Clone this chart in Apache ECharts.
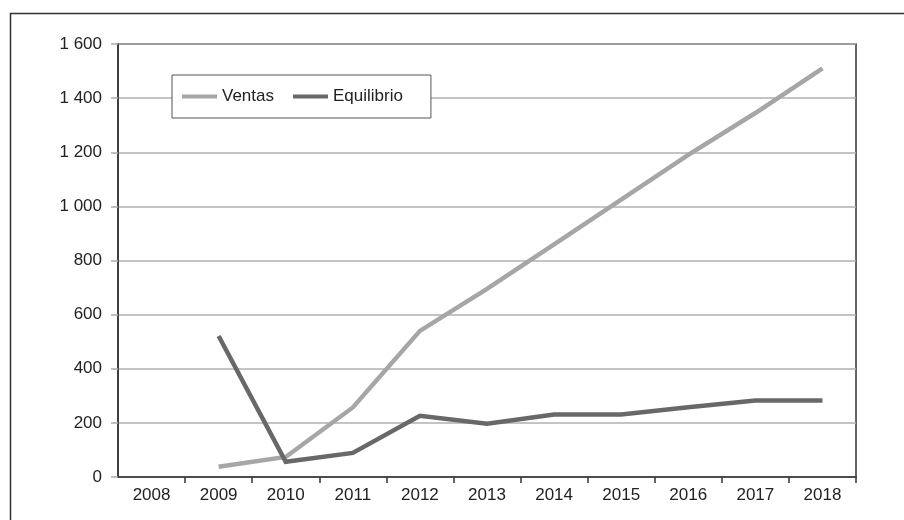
<!DOCTYPE html>
<html>
<head>
<meta charset="utf-8">
<script src="https://cdn.jsdelivr.net/npm/echarts@6/dist/echarts.min.js"></script>
<style>html,body{margin:0;padding:0;background:#fff;}#c{width:904px;height:520px;}</style>
</head>
<body>
<div id="c"></div>
<script>
var years = ['2008','2009','2010','2011','2012','2013','2014','2015','2016','2017','2018'];
var ventas = [null, 38, 74, 257, 540, 695, 860, 1025, 1190, 1345, 1510];
var equilibrio = [null, 521, 56, 89, 226, 197, 231, 231, 258, 283, 283];
var yTicks = [0, 200, 400, 600, 800, 1000, 1200, 1400, 1600];

var FONT = '"Liberation Sans", Arial, sans-serif';
var chart = echarts.init(document.getElementById('c'), null, {renderer: 'canvas'});
chart.setOption({
  animation: false,
  backgroundColor: '#ffffff',
  textStyle: {fontFamily: FONT},
  graphic: [{
    type: 'rect', left: 8, top: 11, silent: true,
    shape: {x: 0, y: 0, width: 1200, height: 1000},
    style: {fill: null, stroke: '#333', lineWidth: 1.5}
  }],
  grid: {left: 118, right: 48, top: 44, bottom: 43, show: true, borderColor: '#333', borderWidth: 1.5, backgroundColor: 'transparent'},
  legend: {
    left: 172, top: 75,
    padding: [13, 28, 13, 10],
    backgroundColor: '#fff',
    borderColor: '#555', borderWidth: 1,
    itemWidth: 35, itemHeight: 4, itemGap: 19,
    textStyle: {fontFamily: FONT, fontSize: 17, color: '#222'},
    data: [{name: 'Ventas', icon: 'rect'}, {name: 'Equilibrio', icon: 'rect'}]
  },
  xAxis: {
    type: 'category', data: years, boundaryGap: true,
    axisLine: {lineStyle: {color: '#333', width: 1.5}},
    axisTick: {show: true, length: 6, lineStyle: {color: '#333', width: 1.5},
      interval: function (i) { return i > 0 && i < years.length; }},
    axisLabel: {fontFamily: FONT, fontSize: 17, color: '#222', margin: 10},
    splitLine: {show: false}
  },
  yAxis: {
    type: 'value', min: 0, max: 1600, interval: 200,
    axisLine: {show: true, lineStyle: {color: '#333', width: 1.5}},
    axisTick: {show: true, length: 7, lineStyle: {color: '#aaa', width: 1.5}},
    axisLabel: {fontFamily: FONT, fontSize: 17, color: '#222', margin: 16,
      formatter: function (v) { return v >= 1000 ? String(v).replace(/^(\d)(\d{3})$/, '$1 $2') : String(v); }},
    splitLine: {show: true, lineStyle: {color: '#b0b0b0', width: 1.5}}
  },
  series: [
    {name: 'Ventas', type: 'line', data: ventas, showSymbol: false, symbol: 'none',
      lineStyle: {color: '#a6a6a6', width: 4.5, cap: 'butt', join: 'miter'}, itemStyle: {color: '#a6a6a6'}, z: 3},
    {name: 'Equilibrio', type: 'line', data: equilibrio, showSymbol: false, symbol: 'none',
      lineStyle: {color: '#686868', width: 4.5, cap: 'butt', join: 'miter'}, itemStyle: {color: '#686868'}, z: 4}
  ]
});
</script>
</body>
</html>
